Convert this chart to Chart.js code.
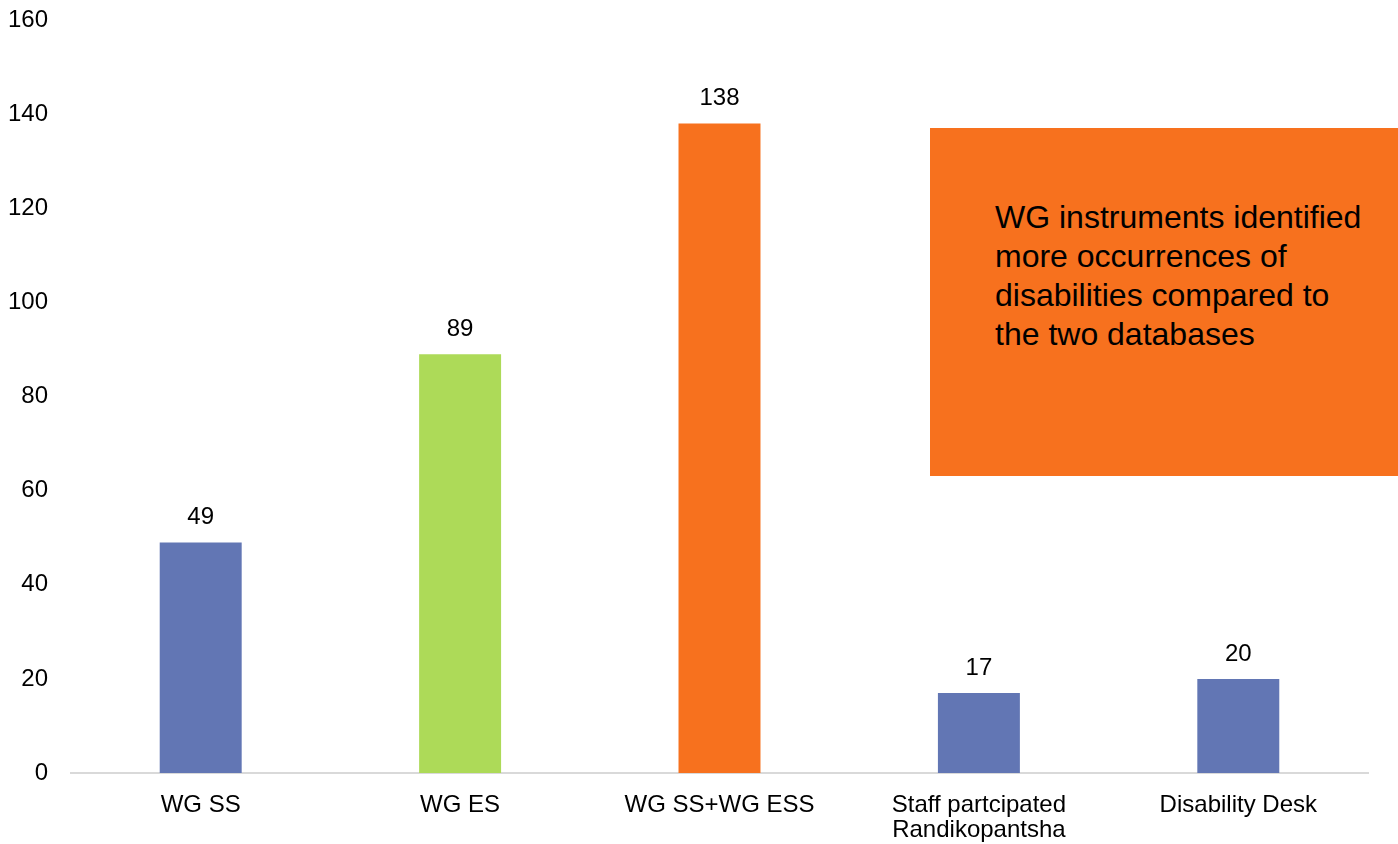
<!DOCTYPE html>
<html>
<head>
<meta charset="utf-8">
<script src="https://cdn.jsdelivr.net/npm/chart.js@4"></script>
<style>
  body { margin: 0; background: #fff; }
  #wrap { position: relative; width: 1398px; height: 844px; }
  #note {
    position: absolute; left: 930px; top: 128px; width: 468px; height: 348px;
    background: #F7711E; box-sizing: border-box; padding: 70px 30px 0 65px;
    font-family: "Liberation Sans", Arial, sans-serif; font-size: 32px; line-height: 39px; color: #000;
  }
</style>
</head>
<body>
<div id="wrap">
  <canvas id="chart" width="1398" height="844"></canvas>
  <div id="note">WG instruments identified more occurrences of disabilities compared to the two databases</div>
</div>
<script>
const categories = ['WG SS', 'WG ES', 'WG SS+WG ESS', ['Staff partcipated', 'Randikopantsha'], 'Disability Desk'];
const values = [49, 89, 138, 17, 20];
const barColors = ['#6276B4', '#ADDA58', '#F7711E', '#6276B4', '#6276B4'];
const yTicks = [0, 20, 40, 60, 80, 100, 120, 140, 160];

const FONT = '"Liberation Sans", Arial, sans-serif';

// value labels above each bar
const valueLabels = {
    id: 'valueLabels',
    afterDatasetsDraw(chart) {
        const ctx = chart.ctx;
        const meta = chart.getDatasetMeta(0);
        ctx.save();
        ctx.font = '24px ' + FONT;
        ctx.fillStyle = '#000';
        ctx.textAlign = 'center';
        ctx.textBaseline = 'middle';
        meta.data.forEach((bar, i) => {
            ctx.fillText(values[i], bar.x, bar.y - 25);
        });
        ctx.restore();
    }
};

new Chart(document.getElementById('chart'), {
    type: 'bar',
    data: {
        labels: categories,
        datasets: [{
            data: values,
            backgroundColor: barColors,
            barPercentage: 0.316,
            categoryPercentage: 1
        }]
    },
    options: {
        responsive: false,
        animation: false,
        layout: { padding: { top: 20, right: 30, left: 0, bottom: 0 } },
        plugins: { legend: { display: false }, tooltip: { enabled: false } },
        scales: {
            x: {
                grid: { display: false },
                border: { display: true, color: '#D9D9D9', width: 2 },
                ticks: { color: '#000', font: { family: FONT, size: 24, lineHeight: 1.05 }, padding: 12, maxRotation: 0 },
                afterFit(scale) { scale.height = 71; }
            },
            y: {
                min: 0, max: 160,
                afterBuildTicks(scale) { scale.ticks = yTicks.map(v => ({ value: v })); },
                grid: { display: false },
                border: { display: false },
                ticks: { color: '#000', font: { family: FONT, size: 24 }, padding: 15 },
                afterFit(scale) {
                    scale.width = 71;
                    scale.paddingTop = 0;
                    scale.paddingBottom = 0;
                }
            }
        }
    },
    plugins: [valueLabels]
});
</script>
</body>
</html>
